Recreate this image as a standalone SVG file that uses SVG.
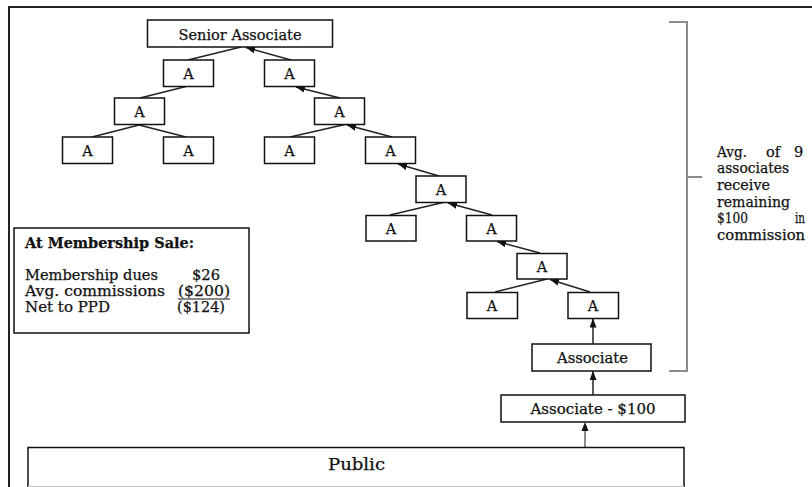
<svg xmlns="http://www.w3.org/2000/svg" width="812" height="487" viewBox="0 0 812 487">
<defs>
<style>
.box{fill:#fff;stroke:#111;stroke-width:1.5}
.t{font-family:"DejaVu Serif","Liberation Serif",serif;font-size:14.5px;fill:#111;stroke:#111;stroke-width:0.25}
.c{text-anchor:middle}
.ln{stroke:#222;stroke-width:1.5;fill:none}
.arr{stroke:#222;stroke-width:1.5;fill:none;marker-end:url(#ah)}
.gray{stroke:#8c8c8c;stroke-width:2;fill:none}
</style>
<marker id="ah" markerUnits="userSpaceOnUse" markerWidth="9" markerHeight="7" refX="9" refY="3.5" orient="auto">
<path d="M0,0 L9,3.5 L0,7 z" fill="#111"/>
</marker>
</defs>
<rect width="812" height="487" fill="#fff"/>
<g id="frame">
<path d="M9,487 V7 H812" stroke="#222" stroke-width="2" fill="none"/>
</g>
<g id="connectors">
<line class="ln" x1="188" y1="60" x2="241" y2="47"/>
<line class="arr" x1="291" y1="60" x2="246" y2="47.5"/>
<line class="ln" x1="140" y1="98" x2="186" y2="86.5"/>
<line class="arr" x1="340" y1="98" x2="296" y2="87"/>
<line class="ln" x1="92" y1="137" x2="139" y2="125"/>
<line class="ln" x1="186" y1="137" x2="139" y2="125"/>
<line class="ln" x1="290" y1="137" x2="345" y2="124.5"/>
<line class="arr" x1="392" y1="137" x2="347" y2="125"/>
<line class="arr" x1="439" y1="176" x2="398" y2="164"/>
<line class="ln" x1="390" y1="215" x2="443" y2="202.5"/>
<line class="arr" x1="492" y1="215" x2="448" y2="203"/>
<line class="arr" x1="540" y1="253" x2="497" y2="241.5"/>
<line class="ln" x1="495" y1="292" x2="547" y2="279"/>
<line class="arr" x1="590" y1="292" x2="550" y2="279.5"/>
<line class="arr" x1="593" y1="344" x2="593" y2="318.5"/>
<line class="arr" x1="593" y1="395" x2="593" y2="371"/>
<line x1="585" y1="447" x2="585" y2="428" stroke="#8c8c8c" stroke-width="2"/>
<path d="M581.5,431 L585,422 L588.5,431 z" fill="#111"/>
</g>
<g id="bracket">
<path class="gray" d="M669,22 H687 V371 H669 M687,177 H702"/>
</g>
<g id="senior">
<rect class="box" x="147.5" y="20" width="185" height="27"/>
<text class="t c" x="240" y="39.5" textLength="123" lengthAdjust="spacingAndGlyphs">Senior Associate</text>
</g>
<g id="a1"><rect class="box" x="163.5" y="60" width="50" height="26.5"/><text class="t c" x="188.5" y="78.5">A</text></g>
<g id="a2"><rect class="box" x="264.5" y="60" width="50" height="26.5"/><text class="t c" x="289.5" y="78.5">A</text></g>
<g id="a3"><rect class="box" x="114.5" y="98" width="50" height="26.5"/><text class="t c" x="139.5" y="116.5">A</text></g>
<g id="a4"><rect class="box" x="314.5" y="98" width="50" height="26.5"/><text class="t c" x="339.5" y="116.5">A</text></g>
<g id="a5"><rect class="box" x="62.5" y="137" width="50" height="26.5"/><text class="t c" x="87.5" y="155.5">A</text></g>
<g id="a6"><rect class="box" x="163.5" y="137" width="50" height="26.5"/><text class="t c" x="188.5" y="155.5">A</text></g>
<g id="a7"><rect class="box" x="264.5" y="137" width="50" height="26.5"/><text class="t c" x="289.5" y="155.5">A</text></g>
<g id="a8"><rect class="box" x="365.5" y="137" width="50" height="26.5"/><text class="t c" x="390.5" y="155.5">A</text></g>
<g id="a9"><rect class="box" x="416" y="176" width="50" height="26.5"/><text class="t c" x="441" y="194.5">A</text></g>
<g id="a10"><rect class="box" x="366" y="215.5" width="50" height="25.5"/><text class="t c" x="391" y="233.5">A</text></g>
<g id="a11"><rect class="box" x="466.5" y="215.5" width="50" height="25.5"/><text class="t c" x="491.5" y="233.5">A</text></g>
<g id="a12"><rect class="box" x="517" y="253.5" width="50" height="25.5"/><text class="t c" x="542" y="271.5">A</text></g>
<g id="a13"><rect class="box" x="467" y="292.5" width="50.5" height="26"/><text class="t c" x="492" y="311">A</text></g>
<g id="a14"><rect class="box" x="568" y="292.5" width="50.5" height="26"/><text class="t c" x="593" y="311">A</text></g>
<g id="associate">
<rect class="box" x="532" y="344" width="119" height="27"/>
<text class="t c" x="592.5" y="363" textLength="71" lengthAdjust="spacingAndGlyphs">Associate</text>
</g>
<g id="associate100">
<rect class="box" x="501" y="395" width="184" height="27"/>
<text class="t c" x="593" y="413.5" textLength="125" lengthAdjust="spacingAndGlyphs">Associate - $100</text>
</g>
<g id="public">
<path d="M28,487 V447.5 H684 V487" stroke="#111" stroke-width="1.5" fill="#fff"/>
<line x1="28" y1="486.5" x2="684" y2="486.5" stroke="#c4c4c4" stroke-width="1"/>
<text class="t c" x="356.5" y="470" style="font-size:16px" textLength="57" lengthAdjust="spacingAndGlyphs">Public</text>
</g>
<g id="membership">
<rect class="box" x="14" y="228" width="235" height="105"/>
<text class="t" x="25" y="247.5" style="font-weight:bold" textLength="169" lengthAdjust="spacingAndGlyphs">At Membership Sale:</text>
<text class="t" x="25" y="280" textLength="133" lengthAdjust="spacingAndGlyphs">Membership dues</text>
<text class="t" x="192" y="280" textLength="28" lengthAdjust="spacingAndGlyphs">$26</text>
<text class="t" x="25" y="296" textLength="140" lengthAdjust="spacingAndGlyphs">Avg. commissions</text>
<text class="t" x="178" y="296" textLength="52" lengthAdjust="spacingAndGlyphs">($200)</text>
<line x1="178" y1="299" x2="230" y2="299" stroke="#111" stroke-width="1"/>
<text class="t" x="25" y="312" textLength="85" lengthAdjust="spacingAndGlyphs">Net to PPD</text>
<text class="t" x="177" y="312" textLength="48" lengthAdjust="spacingAndGlyphs">($124)</text>
</g>
<g id="bracket-label">
<text class="t" x="717" y="157" textLength="30" lengthAdjust="spacingAndGlyphs">Avg.</text>
<text class="t" x="766" y="157">of</text>
<text class="t" x="794" y="157">9</text>
<text class="t" x="717" y="173" textLength="72" lengthAdjust="spacingAndGlyphs">associates</text>
<text class="t" x="717" y="190" textLength="53" lengthAdjust="spacingAndGlyphs">receive</text>
<text class="t" x="717" y="206.5" textLength="73" lengthAdjust="spacingAndGlyphs">remaining</text>
<text class="t" x="717" y="223" textLength="31" lengthAdjust="spacingAndGlyphs">$100</text>
<text class="t" x="795" y="223" textLength="10" lengthAdjust="spacingAndGlyphs">in</text>
<text class="t" x="717" y="239.5" textLength="88" lengthAdjust="spacingAndGlyphs">commission</text>
</g>
</svg>
